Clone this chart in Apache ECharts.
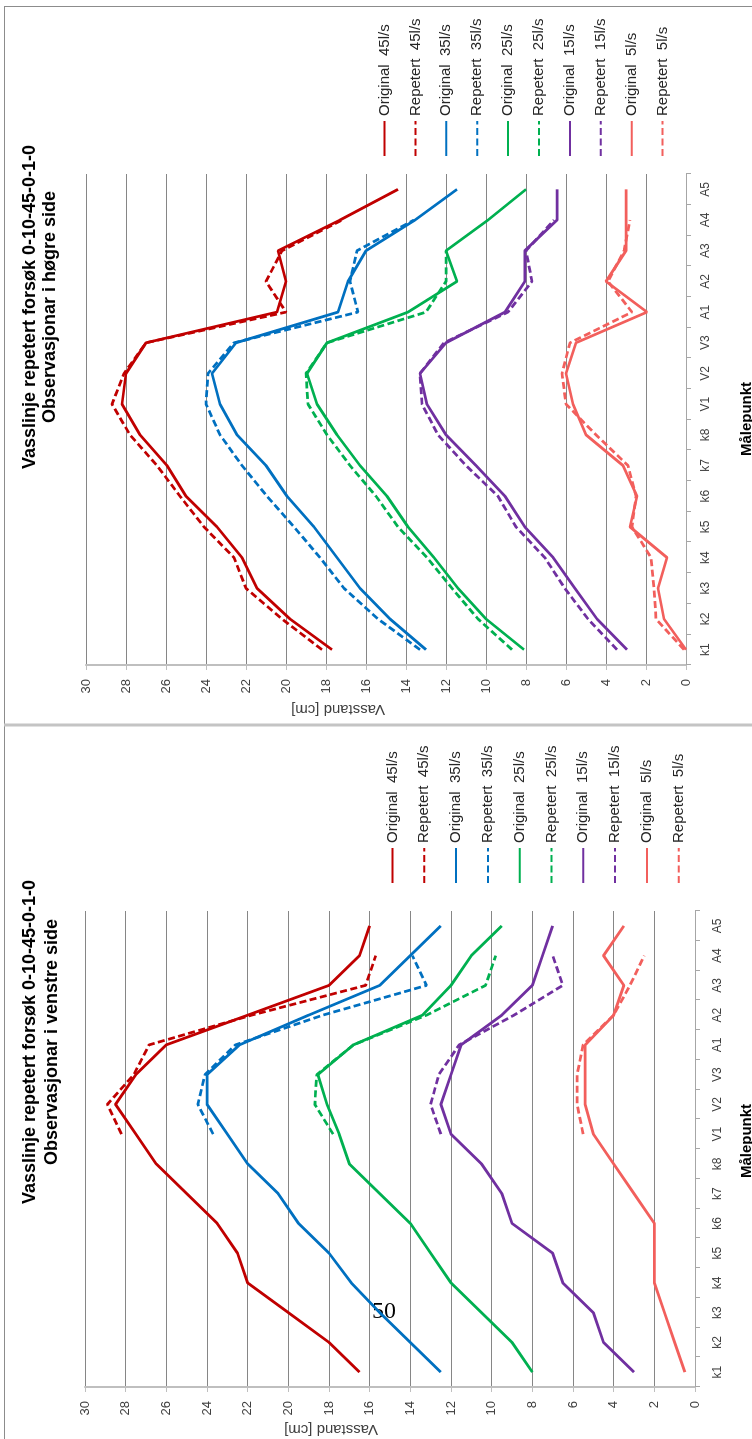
<!DOCTYPE html>
<html><head><meta charset="utf-8">
<script src="https://cdn.jsdelivr.net/npm/echarts@6/dist/echarts.min.js"></script>
<style>
html,body{margin:0;padding:0;width:752px;height:1439px;overflow:hidden;background:#fff}
#rot{position:absolute;left:0;top:0;width:1439px;height:752px;transform-origin:0 0;transform:translate(0,1439px) rotate(-90deg);}
#chart{width:1439px;height:752px}
</style></head>
<body><div id="rot"><div id="chart"></div></div>
<script>
const categories = ['k1','k2','k3','k4','k5','k6','k7','k8','V1','V2','V3','A1','A2','A3','A4','A5'];
const flows = ['45l/s','35l/s','25l/s','15l/s','5l/s'];
const valueTicks = {min: 0, max: 30, interval: 2};
const titleLine1 = 'Vasslinje repetert forsøk 0-10-45-0-1-0';
const titleRight = 'Observasjonar i høgre side';
const titleLeft = 'Observasjonar i venstre side';
const valueAxisName = 'Vasstand [cm]';
const catAxisName = 'Målepunkt';

// Right chart: Observasjonar i høgre side
const hogreOriginal45 = [17.7, 19.8, 21.45, 22.2, 23.45, 25.0, 25.95, 27.3, 28.2, 28.0, 27.0, 20.45, 20.0, 20.4, 17.3, 14.4];
const hogreRepetert45 = [18.2, 20.2, 22.0, 22.6, 24.1, 25.3, 26.45, 27.8, 28.7, 28.1, 27.0, 20.0, 21.0, 20.2, 17.2, null];
const hogreOriginal35 = [13.0, 14.8, 16.3, 17.45, 18.6, 19.95, 21.0, 22.45, 23.3, 23.7, 22.5, 17.4, 16.9, 16.0, 13.55, 11.45];
const hogreRepetert35 = [13.3, 15.4, 17.1, 18.3, 19.6, 20.95, 22.2, 23.3, 24.0, 23.9, 22.6, 16.4, 16.8, 16.45, 13.6, null];
const hogreOriginal25 = [8.1, 10.0, 11.4, 12.6, 13.9, 14.95, 16.3, 17.45, 18.45, 18.95, 17.95, 13.9, 11.45, 12.0, 9.9, 8.0];
const hogreRepetert25 = [8.7, 10.4, 11.7, 12.95, 14.4, 15.5, 16.8, 17.95, 18.9, 19.0, 17.95, 13.0, 12.0, 12.0, null, null];
const hogreOriginal15 = [2.95, 4.45, 5.56, 6.64, 8.06, 9.05, 10.5, 12.0, 12.96, 13.3, 12.0, 9.05, 8.06, 8.06, 6.45, 6.45];
const hogreRepetert15 = [3.45, 4.9, 6.06, 7.06, 8.5, 9.4, 11.0, 12.4, 13.2, 13.3, 12.1, 8.9, 7.7, 8.0, 6.6, null];
const hogreOriginal5 = [0.0, 1.1, 1.4, 0.95, 2.8, 2.45, 3.15, 5.0, 5.65, 6.0, 5.5, 1.95, 4.0, 3.0, 3.0, 3.0];
const hogreRepetert5 = [0.1, 1.5, 1.6, 1.75, 2.7, 2.5, 2.9, 4.5, 6.0, 6.2, 5.8, 2.7, 3.9, 3.1, 2.8, null];

// Left chart: Observasjonar i venstre side
const venstreOriginal45 = [16.5, 18.0, 20.0, 22.0, 22.5, 23.5, 25.0, 26.5, 27.5, 28.5, 27.5, 26.0, 22.0, 18.0, 16.5, 16.0];
const venstreRepetert45 = [null, null, null, null, null, null, null, null, 28.2, 28.9, 27.6, 26.85, 21.8, 16.2, 15.7, null];
const venstreOriginal35 = [12.5, 14.0, 15.5, 16.9, 18.0, 19.5, 20.5, 22.0, 23.0, 24.0, 24.0, 22.4, 19.0, 15.5, 14.0, 12.5];
const venstreRepetert35 = [null, null, null, null, null, null, null, null, 23.7, 24.45, 24.1, 22.6, 18.3, 13.2, 13.9, null];
const venstreOriginal25 = [8.0, 9.0, 10.5, 12.0, 13.0, 14.0, 15.5, 17.0, 17.5, 18.1, 18.55, 16.8, 13.4, 12.0, 11.0, 9.5];
const venstreRepetert25 = [null, null, null, null, null, null, null, null, 17.8, 18.7, 18.6, 16.8, 13.2, 10.3, 9.8, null];
const venstreOriginal15 = [3.0, 4.5, 5.0, 6.5, 7.0, 9.0, 9.5, 10.5, 12.0, 12.5, 12.0, 11.5, 9.5, 8.0, 7.5, 7.0];
const venstreRepetert15 = [null, null, null, null, null, null, null, null, 12.5, 13.0, 12.6, 11.6, 8.9, 6.5, 7.0, null];
const venstreOriginal5 = [0.5, 1.0, 1.5, 2.0, 2.0, 2.0, 3.0, 4.0, 5.0, 5.4, 5.4, 5.4, 4.0, 3.5, 4.5, 3.5];
const venstreRepetert5 = [null, null, null, null, null, null, null, null, 5.5, 5.8, 5.8, 5.5, 4.0, 3.2, 2.5, null];

const hogreSets = [[hogreOriginal45, hogreRepetert45],[hogreOriginal35, hogreRepetert35],[hogreOriginal25, hogreRepetert25],[hogreOriginal15, hogreRepetert15],[hogreOriginal5, hogreRepetert5]];
const venstreSets = [[venstreOriginal45, venstreRepetert45],[venstreOriginal35, venstreRepetert35],[venstreOriginal25, venstreRepetert25],[venstreOriginal15, venstreRepetert15],[venstreOriginal5, venstreRepetert5]];
const colors = ['#C00000','#0070C0','#00B050','#7030A0','#F25F5C'];
const FONT = '"Liberation Sans", Arial, sans-serif';

const names = [];
flows.forEach(f => { names.push('Original  ' + f); names.push('Repetert  ' + f); });

function buildSeries(sets, idx) {
  const out = [];
  sets.forEach((pair, i) => {
    pair.forEach((data, j) => {
      out.push({
        type: 'line', name: names[i*2 + j], xAxisIndex: idx, yAxisIndex: idx,
        data: data, symbol: 'none', showSymbol: false, animation: false, connectNulls: false,
        lineStyle: {color: colors[i], width: 2.75, type: j === 0 ? 'solid' : [7, 3.5]},
        itemStyle: {color: colors[i]}
      });
    });
  });
  return out;
}

const grids = [
  {left: 774, top: 86, width: 491, height: 600},   // right chart (høgre)
  {left: 52, top: 85, width: 476, height: 610}     // left chart (venstre)
];

function catAxis(i, margin) {
  return {
    type: 'category', gridIndex: i, data: categories, boundaryGap: true,
    axisLine: {lineStyle: {color: '#a6a6a6', width: 1}},
    axisTick: {show: true, alignWithLabel: false, length: 5, lineStyle: {color: '#a6a6a6'}},
    axisLabel: {fontSize: 12, color: '#404040', fontFamily: FONT, margin: margin, interval: 0},
    splitLine: {show: false}
  };
}
function valAxis(i) {
  return {
    type: 'value', gridIndex: i, min: valueTicks.min, max: valueTicks.max, interval: valueTicks.interval,
    axisLine: {show: true, lineStyle: {color: '#bfbfbf', width: 2}},
    axisTick: {show: true, length: 5, lineStyle: {color: '#bfbfbf'}},
    axisLabel: {fontSize: 13, color: '#404040', fontFamily: FONT, margin: 14},
    splitLine: {show: true, lineStyle: {color: '#868686', width: 1}}
  };
}

function legend(left, top, gap) {
  return {
    orient: 'vertical', left: left, top: top, itemWidth: 35, itemHeight: 12, itemGap: gap,
    data: names, textStyle: {fontSize: 15, lineHeight: 14, color: '#262626', fontFamily: FONT},
    itemStyle: {color: 'transparent', borderColor: 'transparent', borderWidth: 0, opacity: 0},
    selectedMode: false, padding: 0
  };
}

function txt(x, y, text, font, rot, align, valign, fill) {
  return {type: 'text', x: x, y: y, rotation: rot || 0, silent: true,
    style: {text: text, font: font, fill: fill || '#000', align: align || 'center', verticalAlign: valign || 'middle',
            textAlign: align || 'center', textVerticalAlign: valign || 'middle'}};
}

const chart = echarts.init(document.getElementById('chart'), null, {renderer: 'canvas'});
chart.setOption({
  backgroundColor: '#ffffff',
  animation: false,
  grid: grids,
  xAxis: [catAxis(0, 14), catAxis(1, 17)],
  yAxis: [valAxis(0), valAxis(1)],
  legend: [legend(1282, 377, 15.9), legend(555, 385, 16.8)],
  series: buildSeries(hogreSets, 0).concat(buildSeries(venstreSets, 1)),
  graphic: [
    {type: 'line', silent: true, shape: {x1: 0, y1: 4.5, x2: 1432, y2: 4.5}, style: {stroke: '#8c8c8c', lineWidth: 1}},
    {type: 'line', silent: true, shape: {x1: 1432.5, y1: 4, x2: 1432.5, y2: 752}, style: {stroke: '#8c8c8c', lineWidth: 1}},
    {type: 'line', silent: true, shape: {x1: 714, y1: 4, x2: 714, y2: 752}, style: {stroke: '#c4c4c4', lineWidth: 3}},
    txt(1132, 30, titleLine1, 'bold 18px ' + FONT),
    txt(1132, 50, titleRight, 'bold 18px ' + FONT),
    txt(397, 30, titleLine1, 'bold 18px ' + FONT),
    txt(397, 52, titleLeft, 'bold 18px ' + FONT),
    txt(730, 338, valueAxisName, '15px ' + FONT, Math.PI / 2, 'center', 'middle', '#404040'),
    txt(10, 331, valueAxisName, '15px ' + FONT, Math.PI / 2, 'center', 'middle', '#404040'),
    txt(1020, 739, catAxisName, 'bold 15px ' + FONT, 0, 'center', 'top', '#000'),
    txt(298, 739, catAxisName, 'bold 15px ' + FONT, 0, 'center', 'top', '#000'),
    txt(127, 384, '50', '24px "Liberation Serif", "DejaVu Serif", serif', -Math.PI / 2, 'center', 'middle', '#000')
  ]
});
</script>
</body></html>
